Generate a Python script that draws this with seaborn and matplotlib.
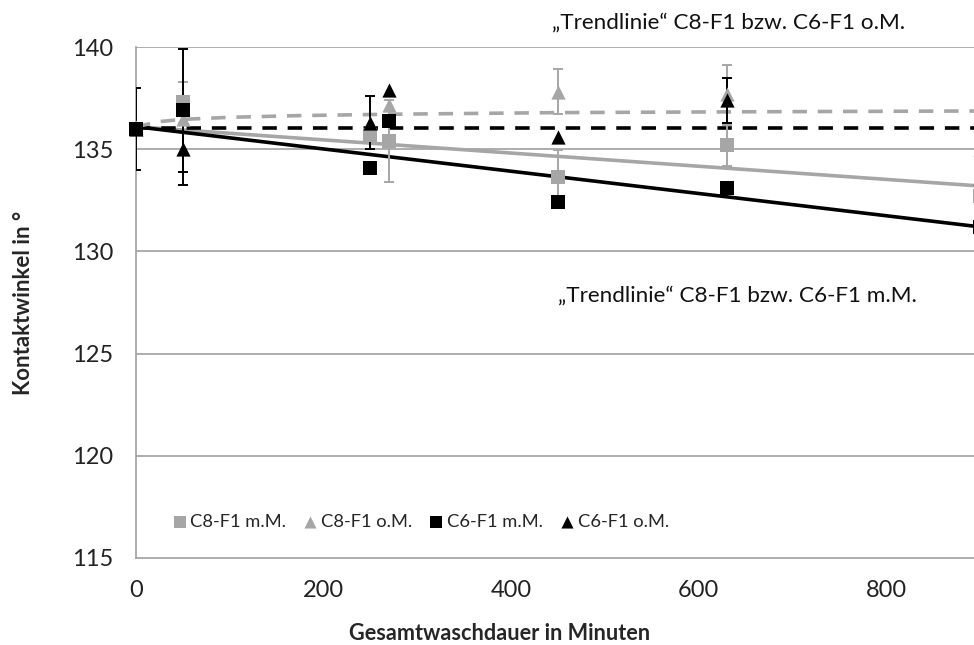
import numpy as np
import pandas as pd
import matplotlib
matplotlib.use("Agg")
import matplotlib.pyplot as plt
import seaborn as sns

# ---- data ----
x_vals = [0, 50, 250, 270, 450, 630, 900]
c8_mm = [136.0, 137.3, 135.7, 135.4, 133.65, 135.2, 132.7]
c8_mm_err = [np.nan, 1.0, np.nan, 2.0, 1.3, 1.0, np.nan]
c8_om = [136.1, 136.5, 136.3, 137.15, 137.8, 137.7, 135.0]
c8_om_err = [np.nan, np.nan, np.nan, np.nan, 1.1, 1.4, np.nan]
c6_mm = [136.0, 136.9, 134.1, 136.4, 132.4, 133.1, 131.2]
c6_mm_err = [2.0, 3.0, np.nan, np.nan, np.nan, np.nan, np.nan]
c6_om = [136.0, 135.0, 136.3, 137.9, 135.6, 137.4, 133.6]
c6_om_err = [np.nan, 1.75, 1.3, np.nan, np.nan, 1.1, np.nan]

series_names = ["C8-F1 m.M.", "C8-F1 o.M.", "C6-F1 m.M.", "C6-F1 o.M."]

# trend lines
trend_lin_x = [0, 900]
trend_c8_mm = [136.1, 133.2]
trend_c6_mm = [136.1, 131.2]
trend_c6_om = [136.05, 136.05]
trend_c8_om_x = [0, 25, 50, 100, 170, 270, 450, 650, 900]
trend_c8_om = [136.1, 136.35, 136.46, 136.56, 136.64, 136.71, 136.79, 136.83, 136.87]

xticks = [0, 200, 400, 600, 800]
yticks = [115, 120, 125, 130, 135, 140]

GRAY = "#a6a6a6"
BLACK = "#000000"
AXIS_GRAY = "#a0a0a0"

sns.set_theme(style="white")
plt.rcParams["font.family"] = ["Lato", "DejaVu Sans"]

fig = plt.figure(figsize=(9.74, 6.45), dpi=100)
ax = fig.add_axes([136 / 974, 1 - 558 / 645, (980 - 136) / 974, (558 - 47) / 645])

# grid lines
for yv in yticks[1:]:
    ax.axhline(yv, color=AXIS_GRAY, lw=1.2, zorder=0)

# trend lines
trend_df = pd.concat([
    pd.DataFrame({"x": trend_lin_x, "y": trend_c8_mm, "t": "c8mm"}),
    pd.DataFrame({"x": trend_lin_x, "y": trend_c6_mm, "t": "c6mm"}),
    pd.DataFrame({"x": trend_lin_x, "y": trend_c6_om, "t": "c6om"}),
    pd.DataFrame({"x": trend_c8_om_x, "y": trend_c8_om, "t": "c8om"}),
])
styles = {"c8mm": (GRAY, "-"), "c6mm": (BLACK, "-"), "c6om": (BLACK, (0, (4, 3))),
          "c8om": (GRAY, (0, (4, 3)))}
for key, (col, ls) in styles.items():
    sub = trend_df[trend_df["t"] == key]
    sns.lineplot(data=sub, x="x", y="y", ax=ax, color=col, lw=2.6, linestyle=ls,
                 zorder=2, legend=False, estimator=None, sort=False)

# error bars
err_specs = [(c8_mm, c8_mm_err, GRAY, 1.4), (c8_om, c8_om_err, GRAY, 1.4),
             (c6_mm, c6_mm_err, BLACK, 1.4), (c6_om, c6_om_err, BLACK, 1.4)]
for yv, ev, col, lw in err_specs:
    ax.errorbar(x_vals, yv, yerr=ev, fmt="none", ecolor=col, elinewidth=lw,
                capsize=3.5, capthick=lw, zorder=3)

# markers
pts = pd.concat([
    pd.DataFrame({"x": x_vals, "y": c8_mm, "s": series_names[0]}),
    pd.DataFrame({"x": x_vals, "y": c8_om, "s": series_names[1]}),
    pd.DataFrame({"x": x_vals, "y": c6_mm, "s": series_names[2]}),
    pd.DataFrame({"x": x_vals, "y": c6_om, "s": series_names[3]}),
])
palette = {series_names[0]: GRAY, series_names[1]: GRAY,
           series_names[2]: BLACK, series_names[3]: BLACK}
markers = {series_names[0]: "s", series_names[1]: "^",
           series_names[2]: "s", series_names[3]: "^"}
for name in series_names:
    sub = pts[pts["s"] == name]
    sns.scatterplot(data=sub, x="x", y="y", ax=ax, color=palette[name],
                    marker=markers[name], s=105, edgecolor=palette[name],
                    linewidth=0, zorder=4, label=name, clip_on=False)

ax.set_xlim(0, 900)
ax.set_ylim(115, 140)
ax.set_xticks(xticks)
ax.set_yticks(yticks)
ax.tick_params(axis="both", labelsize=17, colors="#222222", length=3.6,
               width=1.2, direction="out")
ax.tick_params(axis="both", color=AXIS_GRAY)
ax.tick_params(axis="y", pad=13)
ax.tick_params(axis="x", pad=12.5)
for sp in ["top", "right"]:
    ax.spines[sp].set_visible(False)
for sp in ["left", "bottom"]:
    ax.spines[sp].set_color(AXIS_GRAY)
    ax.spines[sp].set_linewidth(1.2)

ax.set_xlabel("Gesamtwaschdauer in Minuten", fontsize=15.6, fontweight="bold")
ax.xaxis.set_label_coords((500 - 136) / 844, (558 - 623) / 511)
ax.set_ylabel("Kontaktwinkel in °", fontsize=16, fontweight="bold", labelpad=27)

leg = ax.legend(loc="center left", bbox_to_anchor=(163 / 974, 1 - 522 / 645),
                bbox_transform=fig.transFigure, ncol=4, frameon=False,
                fontsize=13.2, handletextpad=0.1, columnspacing=0.8,
                markerscale=0.85, handlelength=1.0, borderaxespad=0)

fig.text(729 / 974, 1 - 23 / 645, "„Trendlinie“ C8-F1 bzw. C6-F1 o.M.", fontsize=16.2,
         ha="center", va="center", color="#111111")
fig.text(737 / 974, 1 - 296 / 645, "„Trendlinie“ C8-F1 bzw. C6-F1 m.M.", fontsize=16.2,
         ha="center", va="center", color="#111111")

fig.savefig("out.png", dpi=100)
